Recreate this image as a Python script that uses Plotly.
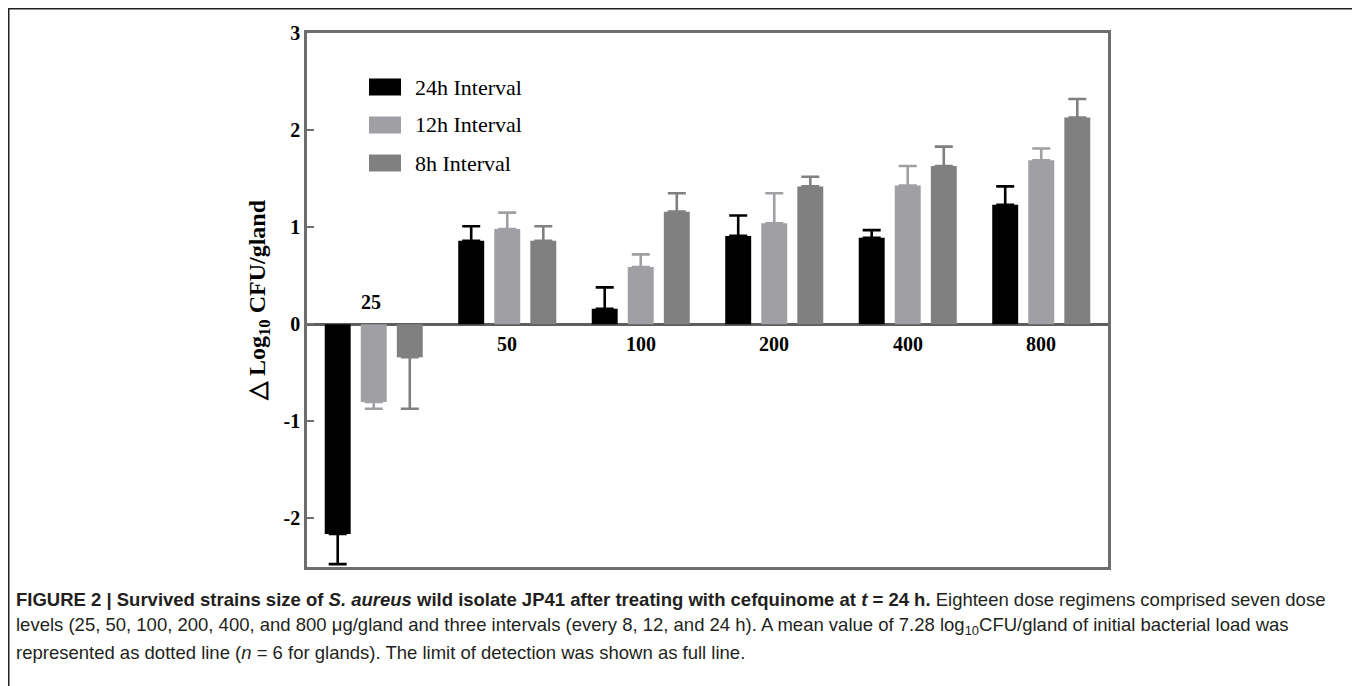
import plotly.graph_objects as go

# ---------------- data ----------------
categories = ["25", "50", "100", "200", "400", "800"]
series_names = ["24h Interval", "12h Interval", "8h Interval"]
h24 = [-2.16, 0.86, 0.16, 0.91, 0.89, 1.23]
h24_err = [0.31, 0.15, 0.22, 0.21, 0.08, 0.19]
h12 = [-0.80, 0.98, 0.59, 1.04, 1.43, 1.69]
h12_err = [0.07, 0.17, 0.13, 0.31, 0.20, 0.12]
h8 = [-0.34, 0.86, 1.16, 1.42, 1.63, 2.13]
h8_err = [0.53, 0.15, 0.19, 0.10, 0.20, 0.19]
y_ticks = [-2, -1, 0, 1, 2, 3]

series_values = [h24, h12, h8]
series_errors = [h24_err, h12_err, h8_err]
colors = ["#000000", "#a0a0a4", "#808080"]

# ---------------- layout geometry (page pixels, body has 8px margin) ----------------
OFF = 8
PAGE_W, PAGE_H = 1360, 686
W, H = PAGE_W - OFF, PAGE_H - OFF
PLOT_L, PLOT_R, PLOT_T, PLOT_B = 307, 1108, 33, 567   # page coordinates of frame
ML = PLOT_L - OFF
MT = PLOT_T - OFF
MR = PAGE_W - PLOT_R
MB = PAGE_H - PLOT_B
PW, PH = PLOT_R - PLOT_L, PLOT_B - PLOT_T


def px_x(px):
    return (px - PLOT_L) / PW


def px_y(py):
    return (PLOT_B - py) / PH


SERIF = "Liberation Serif, Times New Roman, serif"
SANS = "Liberation Sans, Arial, sans-serif"
FRAME = "#6e6e6e"

fig = go.Figure()
for name, vals, errs, col in zip(series_names, series_values, series_errors, colors):
    up = [e if v >= 0 else 0 for v, e in zip(vals, errs)]
    down = [e if v < 0 else 0 for v, e in zip(vals, errs)]
    fig.add_trace(go.Bar(
        x=categories, y=vals, name=name,
        marker=dict(color=col, line=dict(width=0)),
        error_y=dict(type="data", symmetric=False, array=up, arrayminus=down,
                     color=col, thickness=2.6, width=9),
        showlegend=False,
    ))

# category labels (above zero for negative groups, below otherwise)
for i, c in enumerate(categories):
    neg = h24[i] < 0
    fig.add_annotation(
        x=i, y=0, xref="x", yref="y", text=f"<b>{c}</b>", showarrow=False,
        xshift=-3 if neg else 0,
        yshift=22 if neg else -20,
        font=dict(family=SERIF, size=20, color="#000"),
    )

# manual legend
leg_rows = [87, 125, 163]
for name, col, ry in zip(series_names, colors, leg_rows):
    fig.add_shape(type="rect", xref="paper", yref="paper",
                  x0=px_x(369), x1=px_x(401), y0=px_y(ry - 8.5), y1=px_y(ry + 8.5),
                  fillcolor=col, line=dict(width=0))
    fig.add_annotation(xref="paper", yref="paper", x=px_x(413), y=px_y(ry),
                       xanchor="left", yanchor="middle", text=name, showarrow=False,
                       font=dict(family=SERIF, size=22, color="#000"))

# outer figure border
fig.add_shape(type="rect", xref="paper", yref="paper",
              x0=px_x(OFF + 0.75), x1=px_x(1355), y0=px_y(720), y1=px_y(OFF + 0.75),
              line=dict(color="#222", width=1.5), fillcolor="rgba(0,0,0,0)", layer="below")

# caption
cap_lines = [
    "<b>FIGURE 2 | Survived strains size of <i>S. aureus</i> wild isolate JP41 after treating with cefquinome at <i>t</i> = 24 h.</b> Eighteen dose regimens comprised seven dose",
    "levels (25, 50, 100, 200, 400, and 800 \u03bcg/gland and three intervals (every 8, 12, and 24 h). A mean value of 7.28 log<sub>10</sub>CFU/gland of initial bacterial load was",
    "represented as dotted line (<i>n</i> = 6 for glands). The limit of detection was shown as full line.",
]
for line, cy in zip(cap_lines, [599, 626, 652]):
    fig.add_annotation(xref="paper", yref="paper", x=px_x(14), y=px_y(cy),
                       xanchor="left", yanchor="middle", text=line, showarrow=False,
                       font=dict(family=SANS, size=18.5, color="#231f20"))

fig.update_layout(
    width=W, height=H,
    margin=dict(l=ML, r=MR, t=MT, b=MB, pad=0),
    paper_bgcolor="white", plot_bgcolor="white",
    barmode="group", bargap=0.19, bargroupgap=0.28,
    showlegend=False,
    xaxis=dict(type="category", range=[-0.5, 5.5], showticklabels=False, ticks="",
               showgrid=False, zeroline=False, showline=True, mirror=True,
               linecolor=FRAME, linewidth=2.5),
    yaxis=dict(range=[-2.5, 3], tickvals=y_ticks, ticktext=[str(v) for v in y_ticks],
               ticks="inside", ticklen=7, tickwidth=2, tickcolor=FRAME,
               tickfont=dict(family=SERIF, size=20, color="#000", weight="bold"),
               showgrid=False, zeroline=True, zerolinecolor="#5e5e5e", zerolinewidth=2.5,
               showline=True, mirror=True, linecolor=FRAME, linewidth=2.5,
               title=dict(text="<b>\u25b3 Log<sub>10</sub> CFU/gland</b>", standoff=12,
                          font=dict(family=SERIF, size=24, color="#000"))),
)

fig.write_html("out.html")
